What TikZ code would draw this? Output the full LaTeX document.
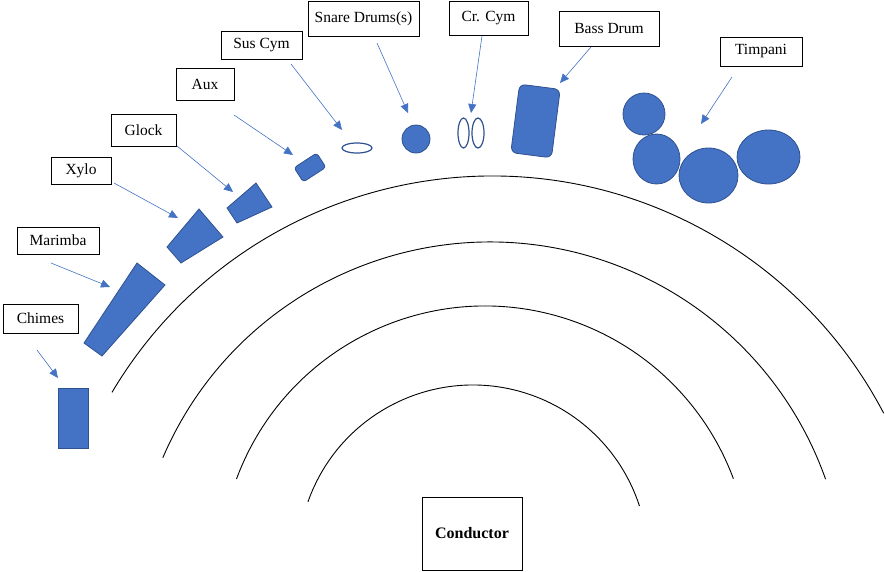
\documentclass[tikz,border=0pt]{standalone}
\usepackage{fontspec}
\setmainfont{Liberation Serif}
\usetikzlibrary{arrows.meta,positioning,shapes.geometric}
\definecolor{instblue}{HTML}{4472C4}
\definecolor{instedge}{HTML}{2F528F}

\tikzset{
  lbl/.style={draw,line width=0.8pt,inner sep=0pt,font=\fontsize{15.5}{18}\selectfont},
  inst/.style={draw=instedge,fill=instblue,line width=0.8pt,inner sep=0pt},
  cym/.style={draw=instedge,line width=1.2pt,inner sep=0pt,ellipse},
  ptr/.style={draw=instblue,line width=0.6pt,-{Triangle[length=9pt,width=8pt]}},
  stage/.style={draw=black,line width=0.9pt}
}

\begin{document}
\begin{tikzpicture}[x=1pt,y=-1pt]
  \useasboundingbox (0,0) rectangle (885,571);

  % rows of the stage
  \draw[stage] (492,618) ++(210.7:442) arc[start angle=210.7,end angle=332.4,radius=442];
  \draw[stage] (490,598) ++(203.2:356) arc[start angle=203.2,end angle=340.5,radius=356];
  \draw[stage] (485,571) ++(200.3:265) arc[start angle=200.3,end angle=339.6,radius=265];
  \draw[stage] (473,560) ++(199.4:175) arc[start angle=199.4,end angle=342,radius=175];

  % labels
  \node[lbl,minimum width=75pt,minimum height=29pt] (chimesLbl) at (40.5,318.5) {Chimes};
  \node[lbl,minimum width=82pt,minimum height=27pt] (marimbaLbl) at (58,240.5) {Marimba};
  \node[lbl,minimum width=60pt,minimum height=27pt] (xyloLbl) at (81,170.5) {Xylo};
  \node[lbl,minimum width=65pt,minimum height=32pt] (glockLbl) at (143.5,130) {Glock};
  \node[lbl,minimum width=58pt,minimum height=32pt] (auxLbl) at (205,84) {Aux};
  \node[lbl,minimum width=81pt,minimum height=28pt] (susLbl) at (261.5,45) {Sus Cym};
  \node[lbl,minimum width=111pt,minimum height=35pt] (snareLbl) at (363.5,18.5) {Snare Drums(s)};
  \node[lbl,minimum width=79pt,minimum height=34pt] (crLbl) at (488.5,18) {Cr. Cym};
  \node[lbl,minimum width=100pt,minimum height=35pt] (bassLbl) at (609,28.5) {Bass Drum};
  \node[lbl,minimum width=82pt,minimum height=29pt] (timpLbl) at (761,51.5) {Timpani};
  \node[lbl,minimum width=100pt,minimum height=73pt,font=\fontsize{16}{18}\selectfont\bfseries] (condLbl) at (472,533.5) {Conductor};

  % instruments
  \node[inst,minimum width=30pt,minimum height=60pt] (chimes) at (73,418) {};
  \draw[inst] (137,263) -- (165,285) -- (102,356) -- (84,343) -- cycle;
  \draw[inst] (199,209) -- (223,237) -- (181,263) -- (167,247) -- cycle;
  \draw[inst] (256,183) -- (272,207) -- (237,223) -- (227,208) -- cycle;
  \node[inst,rounded corners=3pt,minimum width=27pt,minimum height=17pt,rotate=33] (aux) at (310,167.5) {};
  \node[cym,minimum width=30pt,minimum height=10pt] (sus) at (357,148) {};
  \node[inst,circle,minimum size=28pt] (snare) at (416,139) {};
  \node[cym,minimum width=11pt,minimum height=30pt] (crA) at (463.5,133) {};
  \node[cym,minimum width=12pt,minimum height=30pt] (crB) at (478,133) {};
  \node[inst,rounded corners=6pt,minimum width=41pt,minimum height=69pt,rotate=-7.3] (bass) at (535.5,121) {};
  \node[inst,circle,minimum size=42pt] (timpA) at (644,114) {};
  \node[inst,ellipse,minimum width=47pt,minimum height=50pt] (timpB) at (656.5,159) {};
  \node[inst,ellipse,minimum width=59pt,minimum height=55pt] (timpC) at (708.5,175.5) {};
  \node[inst,ellipse,minimum width=63pt,minimum height=54pt] (timpD) at (768.5,157) {};

  % pointers
  \foreach \nm/\ax/\ay/\bx/\by in {chimes/37/350/58/378, marimba/51/263/110/287,
      xylo/114/183/178/218, glock/177/146/233/192, aux/234/115/293/155,
      sus/291/64/342/130, snare/377/43/408/113, cr/482/36/471/113,
      bass/591/47/560/83, timp/732/77/701/124}{
    \coordinate (\nm-tail) at (\ax,\ay);
    \coordinate (\nm-tip) at (\bx,\by);
    \draw[ptr] (\nm-tail) -- (\nm-tip);
  }
\end{tikzpicture}
\end{document}
